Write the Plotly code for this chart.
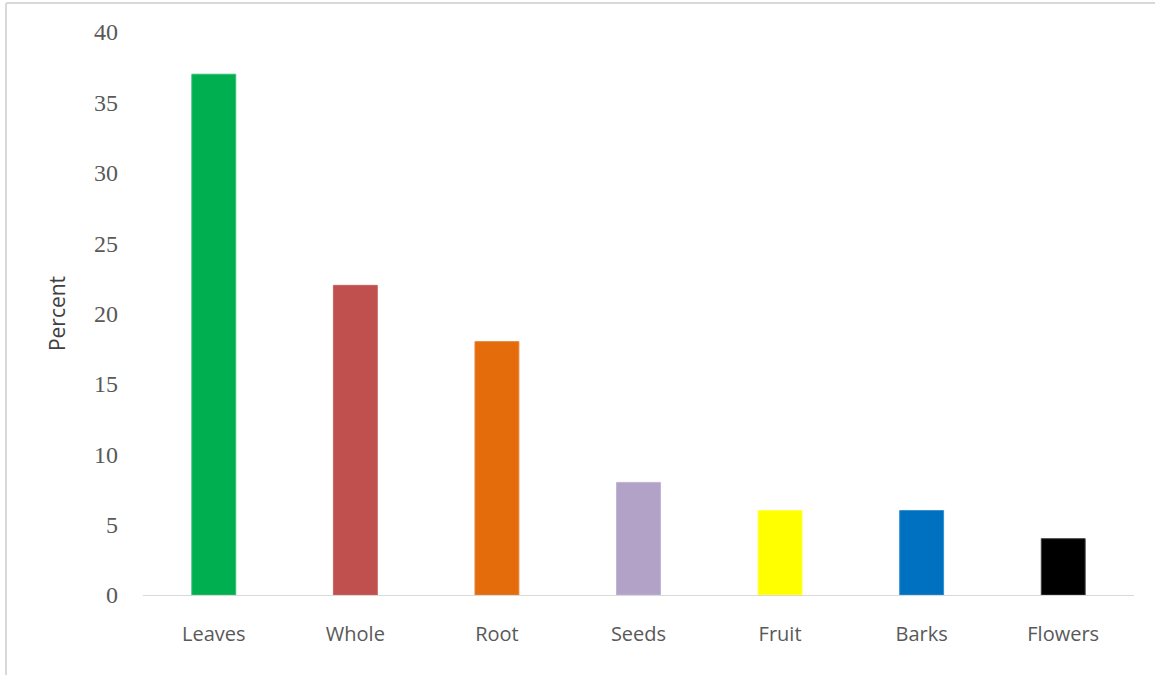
import plotly.graph_objects as go

categories = ["Leaves", "Whole", "Root", "Seeds", "Fruit", "Barks", "Flowers"]
percent = [37, 22, 18, 8, 6, 6, 4]
bar_colors = ["#00B050", "#C0504D", "#E46C0A", "#B2A2C7", "#FFFF00", "#0070C0", "#000000"]
line_colors = ["#33C070", "#C86260", "#E8803A", "#C0B4D2", "#FFFF40", "#3090D0", "#404040"]
y_ticks = [0, 5, 10, 15, 20, 25, 30, 35, 40]

W, H = 1155, 675
L, R, T, B = 143, 21, 32, 80
pw, ph = W - L - R, H - T - B

fig = go.Figure(go.Bar(
    x=categories, y=percent,
    marker=dict(color=bar_colors, line=dict(color=line_colors, width=1)),
    width=0.31,
))

fig.update_layout(
    width=W, height=H,
    margin=dict(l=L, r=R, t=T, b=B),
    plot_bgcolor="white", paper_bgcolor="white",
    showlegend=False,
    xaxis=dict(
        showline=True, linecolor="#D9D9D9", linewidth=1,
        ticks="", showgrid=False, zeroline=False,
        tickfont=dict(family="Open Sans", size=20, color="#595959"),
        ticklabelstandoff=21,
    ),
    yaxis=dict(
        range=[0, 40], tickvals=y_ticks, showgrid=False, zeroline=False,
        showline=False, ticks="",
        tickfont=dict(family="Liberation Serif", size=24, color="#595959"),
        ticklabelstandoff=24,
        title=dict(text="Percent", font=dict(family="Open Sans", size=21, color="#404040"), standoff=22),
    ),
)

# outer chart border (top and left edges visible)
fig.add_shape(type="line", xref="paper", yref="paper",
              x0=(6 - L) / pw, x1=(W - L + 5) / pw,
              y0=(H - B - 3) / ph, y1=(H - B - 3) / ph,
              line=dict(color="#D9D9D9", width=2))
fig.add_shape(type="line", xref="paper", yref="paper",
              x0=(6 - L) / pw, x1=(6 - L) / pw,
              y0=(H - B - 3) / ph, y1=-(B + 5) / ph,
              line=dict(color="#D9D9D9", width=2))

fig.write_html("out.html", config={"displayModeBar": False},
               post_script="document.body.style.margin='0';document.body.style.overflow='hidden';")
